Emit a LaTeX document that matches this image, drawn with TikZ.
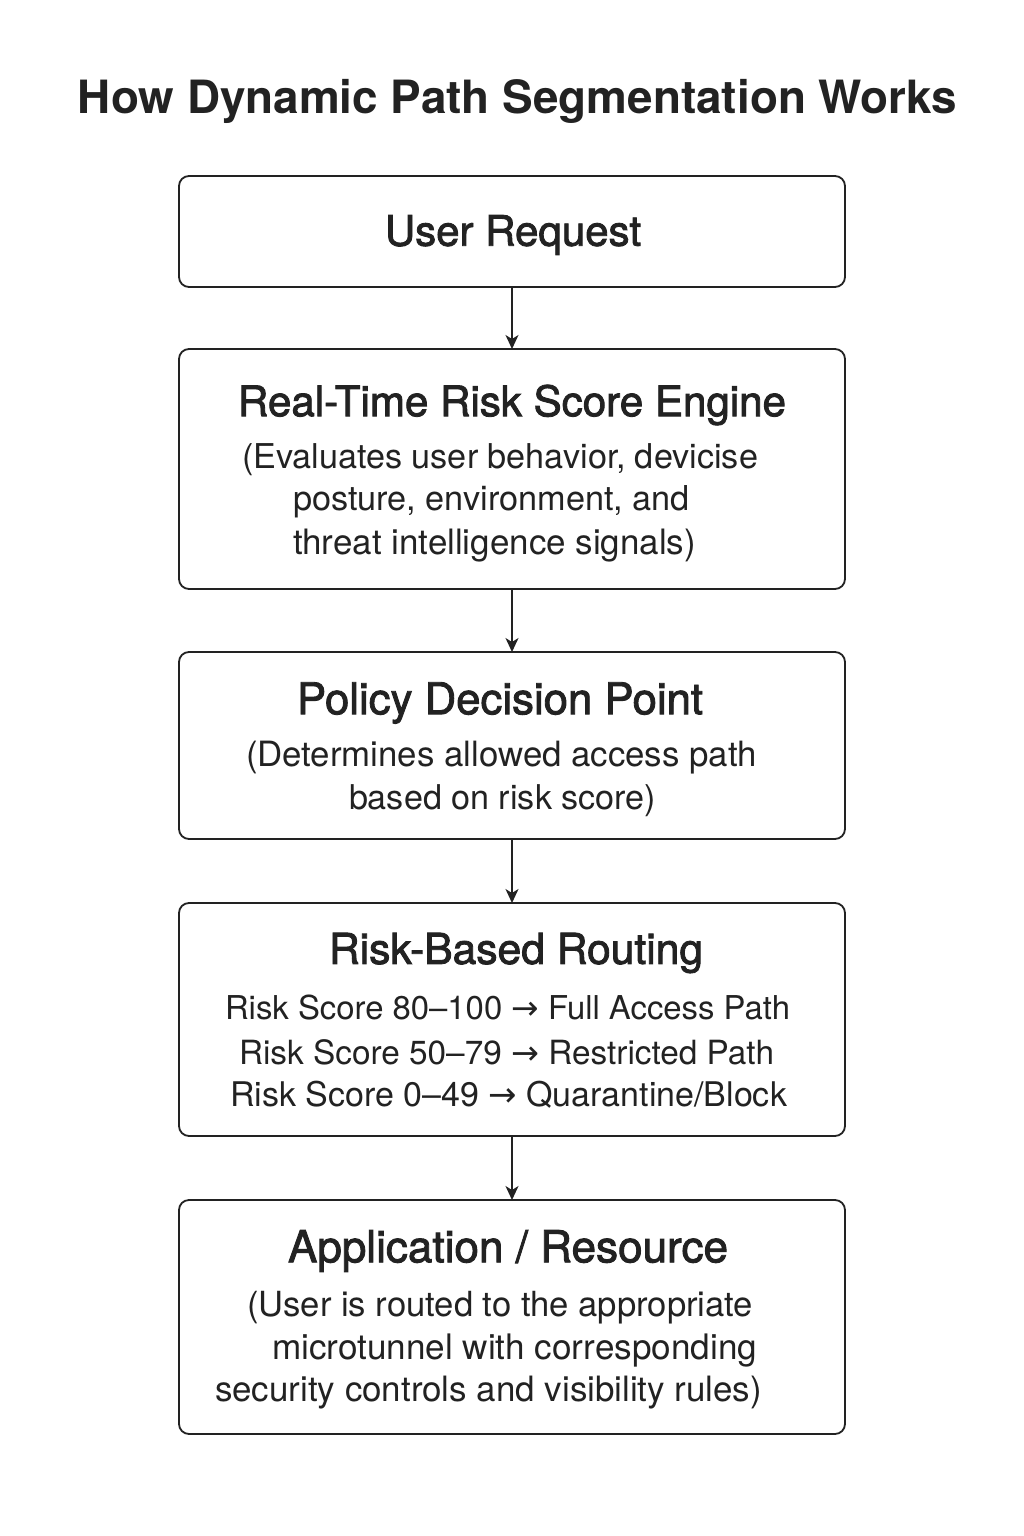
\documentclass[tikz,border=0pt]{standalone}
\usepackage{fontspec}
\usepackage{graphicx}
\setmainfont{TeX Gyre Heros}
\newfontfamily\medfont{TeX Gyre Heros}[FakeBold=2]
\newfontfamily\arrfont{DejaVu Sans}
\usetikzlibrary{arrows.meta}
\newcommand{\fitw}[2]{\resizebox{#1}{!}{#2}}
\newcommand{\ar}{{\arrfont →}}
\definecolor{ink}{HTML}{222222}
\begin{document}
\begin{tikzpicture}[x=1pt,y=-1pt,
  box/.style={draw=ink,line width=1.8pt,rounded corners=10pt,minimum width=666pt,inner sep=0pt,outer sep=0pt},
  txt/.style={inner sep=0pt,outer sep=0pt,text=ink,anchor=west,yshift=-3pt},
  ttl/.style={inner sep=0pt,outer sep=0pt,text=ink,anchor=center,yshift=-3pt},
  flow/.style={draw=ink,line width=1.5pt,-{Stealth[length=14pt,width=13pt,inset=4pt]}}]
\fill[white] (0,0) rectangle (1024,1536);
\useasboundingbox (0,0) rectangle (1024,1536);
\node[ttl] (title) at (517.5,98) {\fitw{879pt}{\bfseries How Dynamic Path Segmentation Works}};

\node[box,minimum height=111pt] (b1) at (512,231.5) {};
\node[box,minimum height=240pt] (b2) at (512,469) {};
\node[box,minimum height=187pt] (b3) at (512,745.5) {};
\node[box,minimum height=233pt] (b4) at (512,1019.5) {};
\node[box,minimum height=234pt] (b5) at (512,1317) {};

\node[ttl] (t1) at (513,232) {\fitw{256pt}{\medfont User Request}};

\node[ttl] (t2) at (512,402) {\fitw{548pt}{\medfont Real-Time Risk Score Engine}};
\node[txt] (l21) at (242,457) {\fitw{516pt}{(Evaluates user behavior, devicise}};
\node[txt] (l22) at (293,499) {\fitw{397pt}{posture, environment, and}};
\node[txt] (l23) at (293,543) {\fitw{403pt}{threat intelligence signals)}};

\node[ttl] (t3) at (500,700) {\fitw{406pt}{\medfont Policy Decision Point}};
\node[txt] (l31) at (246,755) {\fitw{511pt}{(Determines allowed access path}};
\node[txt] (l32) at (349,798) {\fitw{307pt}{based on risk score)}};

\node[ttl] (t4) at (516,950) {\fitw{374pt}{\medfont Risk-Based Routing}};
\node[txt] (l41) at (225,1005) {\fitw{565pt}{Risk Score 80–100 \ar{} Full Access Path}};
\node[txt] (l42) at (239,1049) {\fitw{535pt}{Risk Score 50–79 \ar{} Restricted Path}};
\node[txt] (l43) at (230,1092) {\fitw{557pt}{Risk Score 0–49 \ar{} Quarantine/Block}};

\node[ttl] (t5) at (508,1248) {\fitw{440pt}{\medfont Application / Resource}};
\node[txt] (l51) at (247,1305) {\fitw{506pt}{(User is routed to the appropriate}};
\node[txt] (l52) at (272,1348) {\fitw{485pt}{microtunnel with corresponding}};
\node[txt] (l53) at (215,1390) {\fitw{547pt}{security controls and visibility rules)}};

\draw[flow] (b1.south) -- (b2.north);
\draw[flow] (b2.south) -- (b3.north);
\draw[flow] (b3.south) -- (b4.north);
\draw[flow] (b4.south) -- (b5.north);
\end{tikzpicture}
\end{document}
